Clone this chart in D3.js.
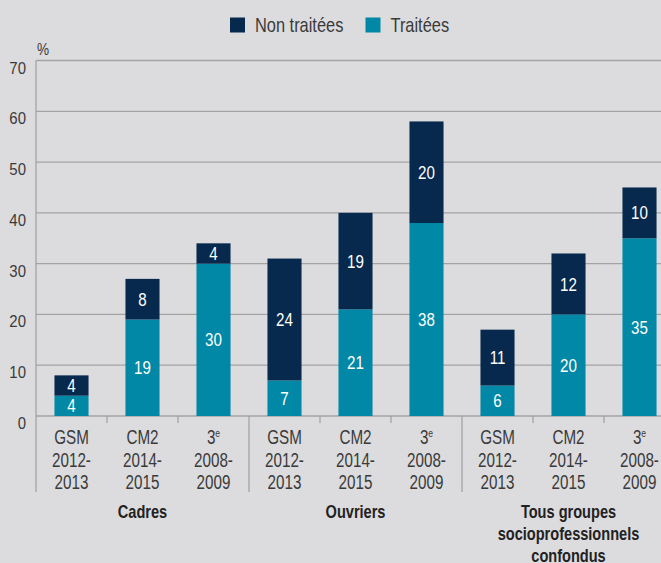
<!DOCTYPE html>
<html><head><meta charset="utf-8">
<script src="https://cdn.jsdelivr.net/npm/d3@7"></script>
<style>
html,body{margin:0;padding:0;background:#dcdcde;}
svg{display:block;}
text{font-family:"Liberation Sans",Arial,sans-serif;}
</style></head>
<body>
<svg id="c" width="661" height="563"></svg>
<script>
const groups = ["Cadres", "Ouvriers", "Tous groupes socioprofessionnels confondus"];
const groupLines = [["Cadres"], ["Ouvriers"], ["Tous groupes", "socioprofessionnels", "confondus"]];
const periods = [["GSM", "2012-", "2013"], ["CM2", "2014-", "2015"], ["3e", "2008-", "2009"]];
const categories = ["Cadres GSM", "Cadres CM2", "Cadres 3e", "Ouvriers GSM", "Ouvriers CM2", "Ouvriers 3e", "Tous GSM", "Tous CM2", "Tous 3e"];
const traitees = [4, 19, 30, 7, 21, 38, 6, 20, 35];
const nonTraitees = [4, 8, 4, 24, 19, 20, 11, 12, 10];
const yTicks = [0, 10, 20, 30, 40, 50, 60, 70];
const seriesNames = ["Non traitées", "Traitées"];
const colors = {"Non traitées": "#06294d", "Traitées": "#0088a6"};

const svg = d3.select("#c");
const grid = "#a3a3a5";
const textCol = "#3a3a3a";

// condensed text helper
function ctext(parent, x, y, str, size, sx, anchor, fill, weight) {
  const g = parent.append("g").attr("transform", `translate(${x},${y}) scale(${sx},1)`);
  const t = g.append("text").attr("x", 0).attr("y", 0)
    .attr("text-anchor", anchor).attr("font-size", size).attr("fill", fill);
  if (weight) t.attr("font-weight", weight);
  if (str !== null) t.text(str);
  return t;
}

const x = d3.scaleBand().domain(categories).range([36, 36 + 71 * 9]).padding(0);
const y = d3.scaleLinear().domain([0, 70]).range([416, 60.5]);
const barW = x.bandwidth() * 0.48;

// gridlines
svg.append("g").selectAll("line").data(yTicks).join("line")
  .attr("x1", 36).attr("x2", 661)
  .attr("y1", d => y(d)).attr("y2", d => y(d))
  .attr("stroke", grid).attr("stroke-width", 1.3);

// y axis labels
const yAxis = d3.axisLeft(y).tickValues(yTicks).tickSize(0);
const ya = svg.append("g").attr("transform", "translate(36,0)").call(yAxis);
ya.select(".domain").remove();
ya.selectAll(".tick text")
  .attr("x", 0).attr("y", 12.5).attr("dy", null)
  .attr("transform", "translate(-10,0) scale(0.88,1)")
  .attr("font-size", 17).attr("fill", textCol)
  .style("font-family", '"Liberation Sans",Arial,sans-serif');

ctext(svg, 37, 55, "%", 16, 0.85, "start", textCol);

// stacked data
const rows = categories.map((c, i) => ({cat: c, "Traitées": traitees[i], "Non traitées": nonTraitees[i]}));
const stack = d3.stack().keys(["Traitées", "Non traitées"])(rows);

const layer = svg.append("g").selectAll("g").data(stack).join("g")
  .attr("fill", d => colors[d.key]);
layer.selectAll("rect").data(d => d).join("rect")
  .attr("x", d => x(d.data.cat) + (x.bandwidth() - barW) / 2)
  .attr("width", barW)
  .attr("y", d => y(d[1]))
  .attr("height", d => y(d[0]) - y(d[1]));

// value labels
const labG = svg.append("g");
stack.forEach(s => {
  s.forEach(d => {
    ctext(labG, x(d.data.cat) + x.bandwidth() / 2, (y(d[0]) + y(d[1])) / 2 + 6.6,
      String(d[1] - d[0]), 18.5, 0.82, "middle", "#ffffff");
  });
});

// axes lines
svg.append("line").attr("x1", 36).attr("x2", 36).attr("y1", y(70)).attr("y2", 492)
  .attr("stroke", grid).attr("stroke-width", 1.3);
categories.forEach((c, i) => {
  if (i === 0) return;
  const xx = x(c);
  const sep = i % 3 === 0;
  svg.append("line").attr("x1", xx).attr("x2", xx).attr("y1", y(0)).attr("y2", sep ? 492 : 423)
    .attr("stroke", grid).attr("stroke-width", 1.3);
});

// category labels
categories.forEach((c, i) => {
  const p = periods[i % 3];
  const cx = x(c) + x.bandwidth() / 2;
  p.forEach((line, k) => {
    if (line === "3e") {
      const t = ctext(svg, cx, 444 + k * 22.7, null, 19.5, 0.78, "middle", textCol);
      t.append("tspan").text("3");
      t.append("tspan").attr("font-size", 11).attr("dy", -7).text("e");
    } else {
      ctext(svg, cx, 444 + k * 22.7, line, 19.5, 0.78, "middle", textCol);
    }
  });
});

// group labels
groupLines.forEach((lines, g) => {
  const cx = x(categories[g * 3]) + x.bandwidth() * 1.5;
  lines.forEach((l, k) => ctext(svg, cx, 518 + k * 22, l, 18, 0.81, "middle", "#222", "bold"));
});

// legend
const legend = svg.append("g");
const legItems = [{name: seriesNames[0], x: 230}, {name: seriesNames[1], x: 365.5}];
legItems.forEach(it => {
  legend.append("rect").attr("x", it.x).attr("y", 17.5).attr("width", 15).attr("height", 15).attr("fill", colors[it.name]);
  ctext(legend, it.x + 25, 32.3, it.name, 20.5, 0.8, "start", textCol);
});
</script>
</body></html>
